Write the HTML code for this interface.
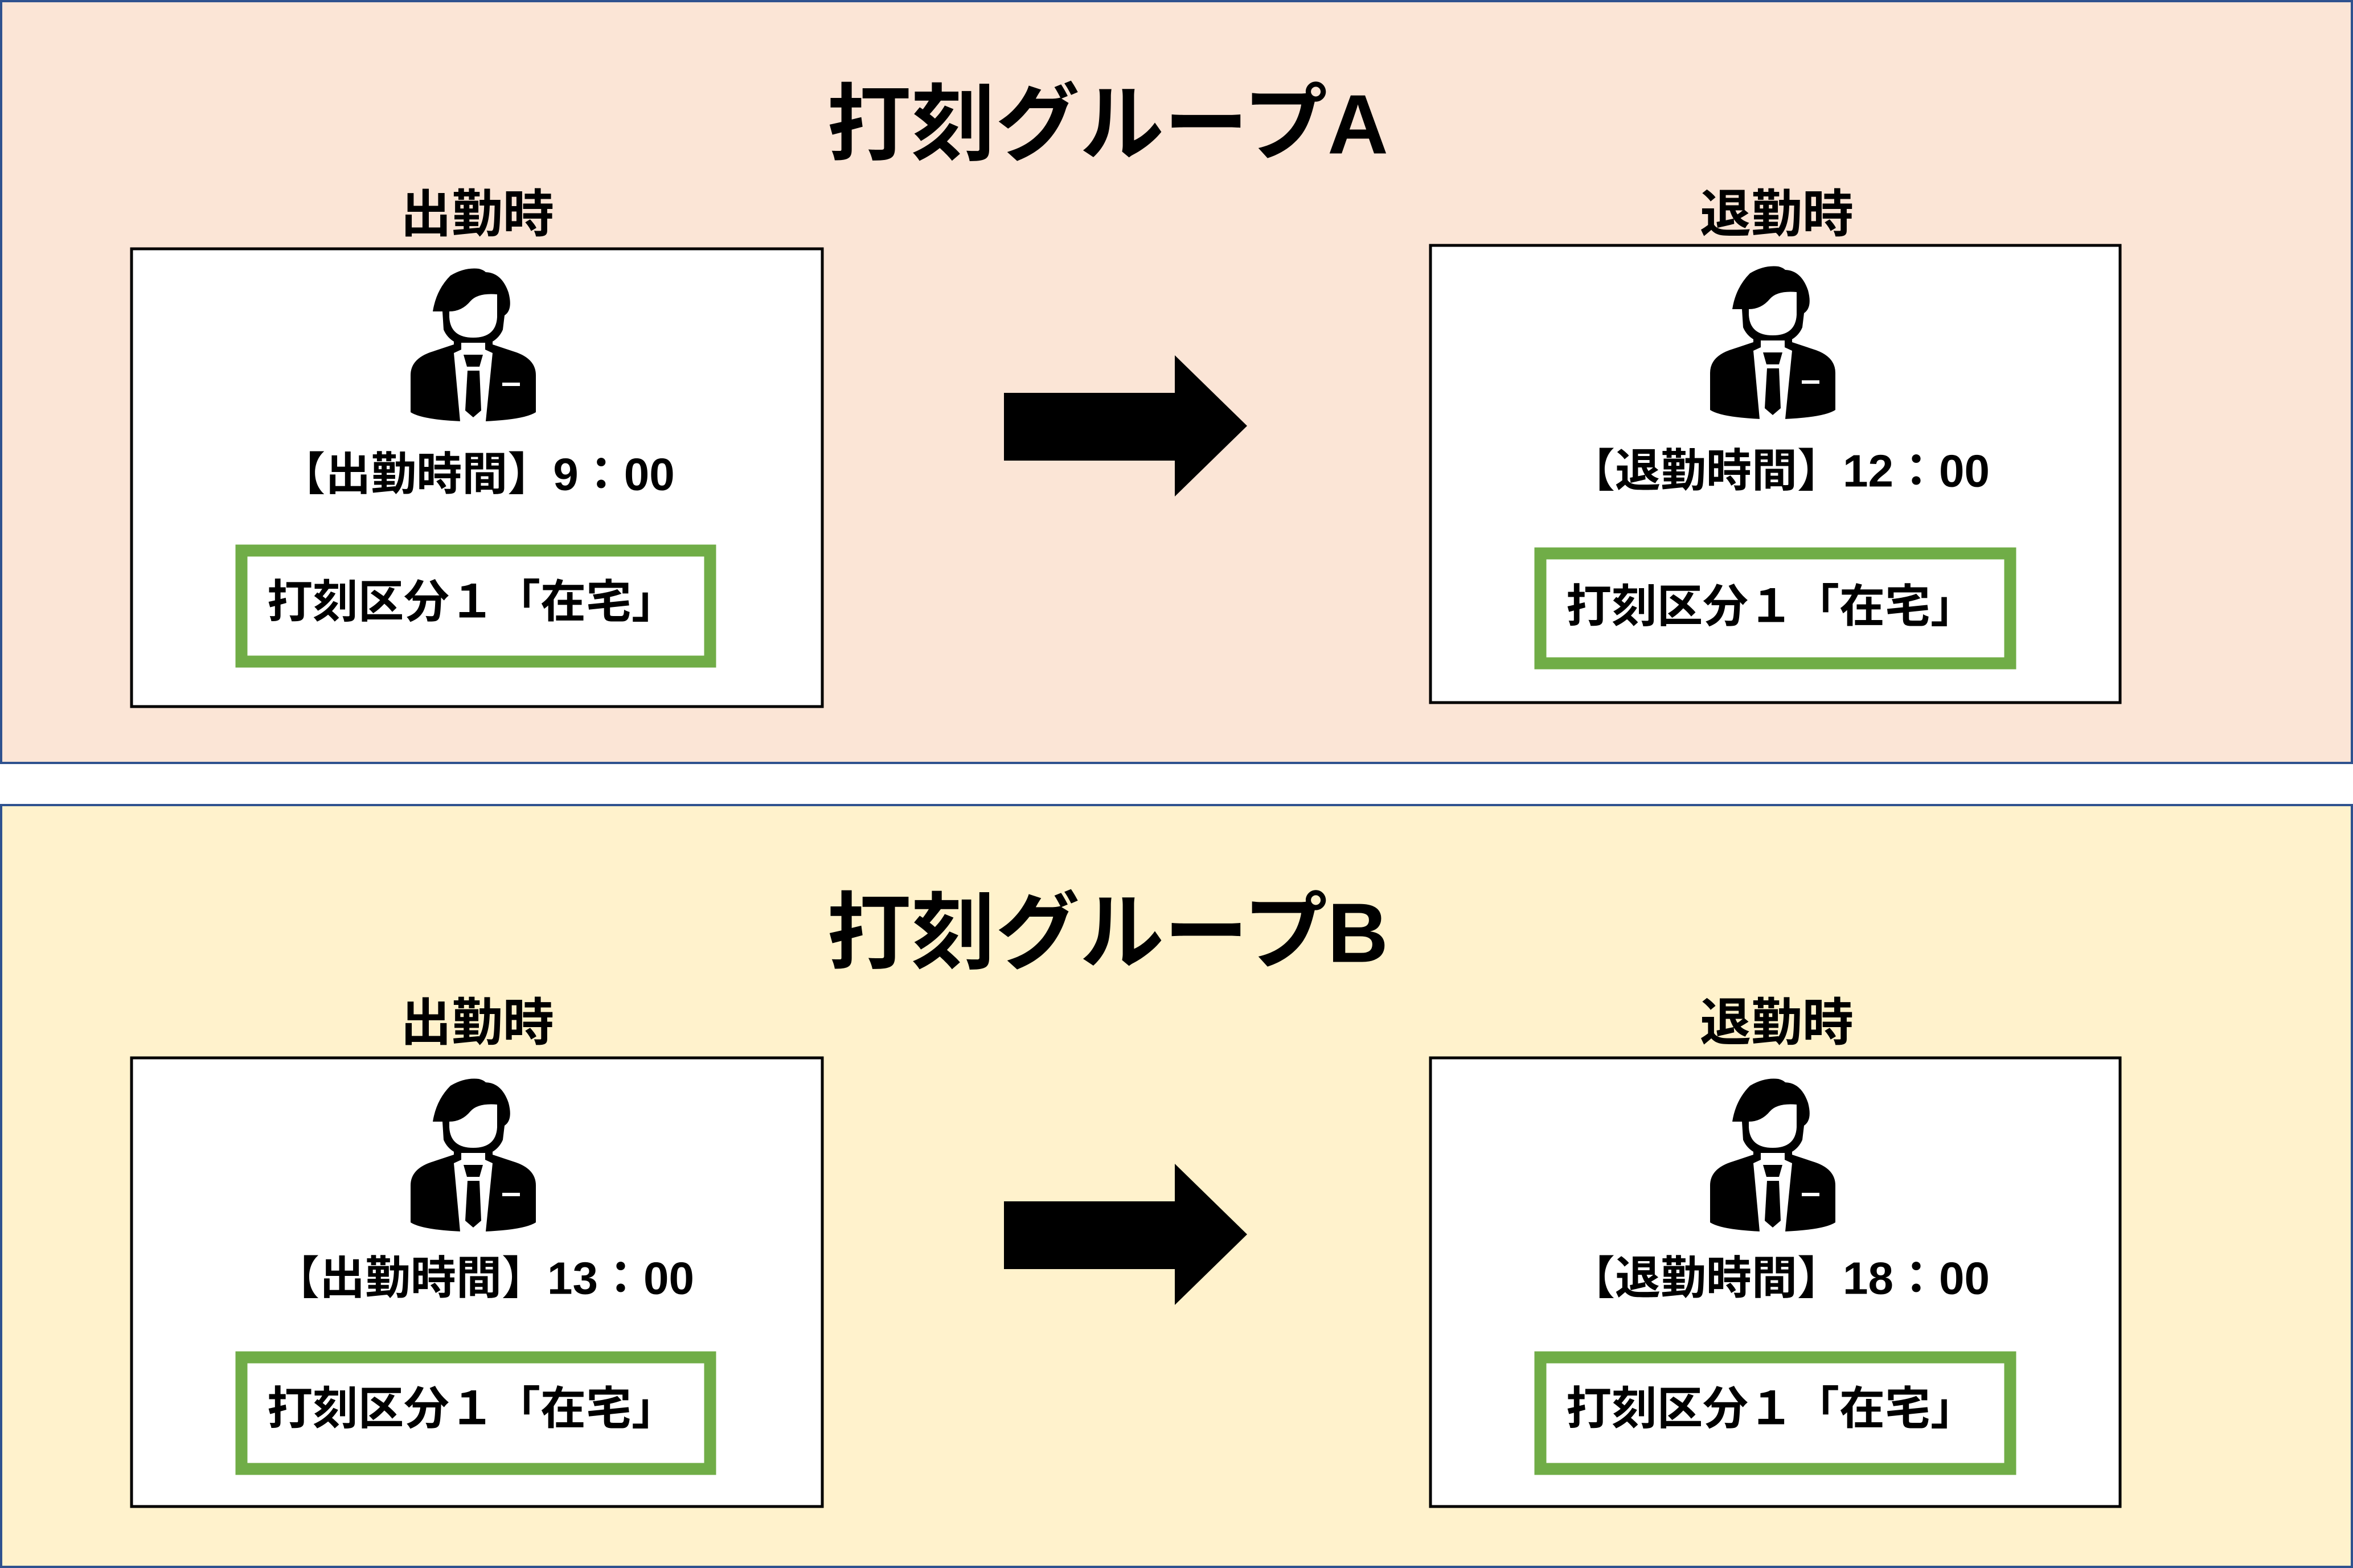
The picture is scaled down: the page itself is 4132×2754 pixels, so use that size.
<!DOCTYPE html>
<html><head><meta charset="utf-8"><style>
html,body{margin:0;padding:0;background:#fff;}
svg{display:block;}
text{font-family:"Liberation Sans","Noto Sans CJK JP",sans-serif;font-weight:bold;fill:#000;}
</style></head><body>
<svg width="4132" height="2754" viewBox="0 0 4132 2754" xmlns="http://www.w3.org/2000/svg">
<defs>
<g id="man">
<path d="M39,78 Q45,40 70,15 Q95,0 120,3 Q128,5 132,9 Q160,10 172,45 Q180,75 165,85 L162,110 Q150,138 110,140 Q70,138 58,110 L56,78 Z" fill="#000"/>
<path d="M68,78 Q90,78 105,60 Q118,45 152,48 L152,88 Q150,124 110,124 Q70,124 68,88 Z" fill="#fff"/>
<path d="M0,255 L0,190 Q0,160 40,148 L76,136 L76,125 L144,125 L144,136 L180,148 Q220,160 220,190 L220,255 Q200,268 130,271 L90,271 Q20,268 0,255 Z" fill="#000"/>
<path d="M89,133 L131,133 L131,145 L144,151 L132,271 L87,271 L76,151 L89,145 Z" fill="#fff"/>
<path d="M93,154 L127,154 L121,175 L99,175 Z" fill="#000"/>
<path d="M100,182 L121,182 L124,252 L110,264 L96,252 Z" fill="#000"/>
<rect x="161" y="203" width="31" height="6" fill="#fff"/>
</g>
<g id="labels">
<text x="838" y="377" font-size="90" text-anchor="middle" dominant-baseline="central">出勤時</text>
<text x="3120" y="377" font-size="90" text-anchor="middle" dominant-baseline="central">退勤時</text>
<path d="M1763,690 L2063,690 L2063,624 L2190,748 L2063,872 L2063,809 L1763,809 Z" fill="#000"/>
</g>
</defs>
<rect x="2" y="2" width="4128" height="1338" fill="#FBE5D6" stroke="#2F528F" stroke-width="4"/>
<rect x="2" y="1414" width="4128" height="1338" fill="#FFF2CC" stroke="#2F528F" stroke-width="4"/>
<use href="#labels"/>
<use href="#labels" y="1420"/>

<!-- Panel A -->
<rect x="231" y="437" width="1213" height="804" fill="#fff" stroke="#000" stroke-width="5"/>
<rect x="2512" y="431" width="1211" height="803" fill="#fff" stroke="#000" stroke-width="5"/>
<use href="#man" x="721" y="469"/>
<use href="#man" x="3003" y="465"/>
<rect x="424" y="967" width="823" height="195" fill="#fff" stroke="#70AD47" stroke-width="21"/>
<rect x="2705" y="972" width="825" height="193" fill="#fff" stroke="#70AD47" stroke-width="21"/>
<text x="469" y="1057" font-size="80" dominant-baseline="central">打刻区分１「在宅」</text>
<text x="2750" y="1065" font-size="80" dominant-baseline="central">打刻区分１「在宅」</text>

<!-- Panel B -->
<rect x="231" y="1858" width="1213" height="788" fill="#fff" stroke="#000" stroke-width="5"/>
<rect x="2512" y="1858" width="1211" height="788" fill="#fff" stroke="#000" stroke-width="5"/>
<use href="#man" x="721" y="1892"/>
<use href="#man" x="3003" y="1892"/>
<rect x="424" y="2384" width="823" height="196" fill="#fff" stroke="#70AD47" stroke-width="21"/>
<rect x="2705" y="2384" width="825" height="196" fill="#fff" stroke="#70AD47" stroke-width="21"/>
<text x="469" y="2474" font-size="80" dominant-baseline="central">打刻区分１「在宅」</text>
<text x="2750" y="2474" font-size="80" dominant-baseline="central">打刻区分１「在宅」</text>

<text x="1945" y="219" font-size="148" text-anchor="middle" dominant-baseline="central">打刻グループA</text>
<text x="1945" y="1639" font-size="148" text-anchor="middle" dominant-baseline="central">打刻グループB</text>
<text x="838" y="833" font-size="80" text-anchor="middle" dominant-baseline="central">【出勤時間】9：00</text>
<text x="3125" y="827" font-size="80" text-anchor="middle" dominant-baseline="central">【退勤時間】12：00</text>
<text x="850" y="2245" font-size="80" text-anchor="middle" dominant-baseline="central">【出勤時間】13：00</text>
<text x="3125" y="2245" font-size="80" text-anchor="middle" dominant-baseline="central">【退勤時間】18：00</text>
</svg>
</body></html>
